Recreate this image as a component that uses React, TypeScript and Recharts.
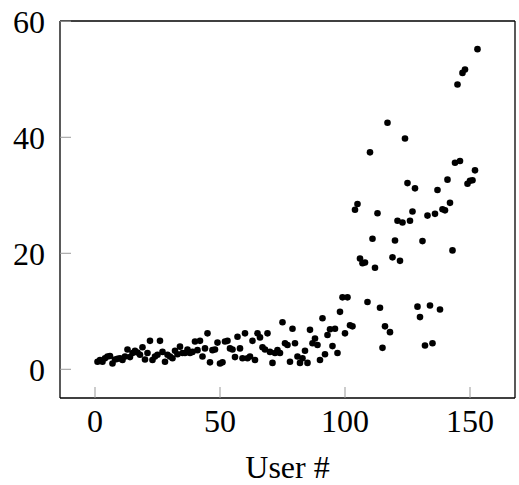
import { ScatterChart, Scatter, XAxis, YAxis } from "recharts";

// value per user, user # = index + 1
const userValues = [
  1.3, 1.6, 1.3, 1.9, 2.2, 2.3, 1.0, 1.7, 1.8, 1.9,
  1.6, 2.2, 3.4, 2.1, 2.8, 3.2, 2.9, 2.5, 3.8, 1.7,
  2.8, 4.9, 1.6, 2.2, 2.5, 4.9, 3.0, 1.3, 2.5, 2.2,
  1.9, 3.2, 2.6, 3.9, 2.8, 2.8, 3.4, 2.8, 3.0, 4.8,
  3.3, 4.9, 2.2, 3.6, 6.2, 1.2, 3.3, 3.4, 4.6, 1.0,
  1.2, 4.8, 4.9, 3.6, 3.4, 2.1, 5.6, 3.6, 1.9, 6.2,
  1.9, 2.2, 4.9, 1.6, 6.2, 5.5, 3.8, 3.4, 6.2, 3.0,
  1.1, 2.8, 3.3, 2.8, 8.1, 4.5, 4.2, 1.3, 7.0, 4.5,
  2.2, 1.1, 1.9, 3.2, 1.1, 6.8, 4.5, 5.3, 4.2, 1.6,
  8.8, 2.6, 5.9, 6.9, 4.0, 7.0, 2.8, 9.9, 12.4, 6.2,
  12.4, 7.6, 7.4, 27.5, 28.5, 19.1, 18.3, 18.4, 11.6, 37.4,
  22.5, 17.5, 26.9, 10.6, 3.7, 7.4, 42.5, 6.4, 19.3, 22.2,
  25.6, 18.7, 25.3, 39.8, 32.1, 25.6, 27.2, 31.2, 10.8, 9.0,
  22.1, 4.1, 26.5, 11.0, 4.5, 26.8, 30.9, 10.3, 27.6, 27.4,
  32.7, 28.7, 20.5, 35.6, 49.1, 35.9, 51.1, 51.7, 32.0, 32.5,
  32.6, 34.3, 55.2,
];
const xTicks = [0, 50, 100, 150];
const yTicks = [0, 20, 40, 60];

const points = userValues.map((v, i) => ({ user: i + 1, value: v }));

const font = { fontFamily: "'Liberation Serif', 'Times New Roman', serif", fontSize: 32, fill: "#000" };
const frame = { stroke: "#000", strokeWidth: 1.3 };
const tickMark = { stroke: "#999", strokeWidth: 1 };

export default function App() {
  return (
    <div style={{ position: "absolute", left: 0, top: 0 }}>
      <ScatterChart width={519} height={485} margin={{ top: 0, right: 0, bottom: 0, left: 0 }}>
        <XAxis
          xAxisId="b"
          dataKey="user"
          type="number"
          domain={[-14, 168]}
          ticks={xTicks}
          height={87}
          tickSize={-11}
          tickMargin={22}
          tick={font}
          tickLine={tickMark}
          axisLine={frame}
          label={{ value: "User #", position: "insideBottom", offset: 7, style: font }}
        />
        <XAxis
          xAxisId="t"
          orientation="top"
          dataKey="user"
          type="number"
          domain={[-14, 168]}
          ticks={xTicks}
          height={21}
          tickSize={-11}
          tick={false}
          tickLine={tickMark}
          axisLine={frame}
        />
        <YAxis
          yAxisId="l"
          dataKey="value"
          type="number"
          domain={[-4.95, 60.05]}
          ticks={yTicks}
          width={60}
          tickSize={-11}
          tickMargin={26}
          tick={font}
          tickLine={tickMark}
          axisLine={frame}
        />
        <YAxis
          yAxisId="r"
          orientation="right"
          dataKey="value"
          type="number"
          domain={[-4.95, 60.05]}
          ticks={yTicks}
          width={4}
          tickSize={-11}
          tick={false}
          tickLine={tickMark}
          axisLine={frame}
        />
        <Scatter
          xAxisId="b"
          yAxisId="l"
          data={points}
          isAnimationActive={false}
          shape={(p: any) => <circle cx={p.cx} cy={p.cy} r={3.3} fill="#000" />}
        />
      </ScatterChart>
    </div>
  );
}
